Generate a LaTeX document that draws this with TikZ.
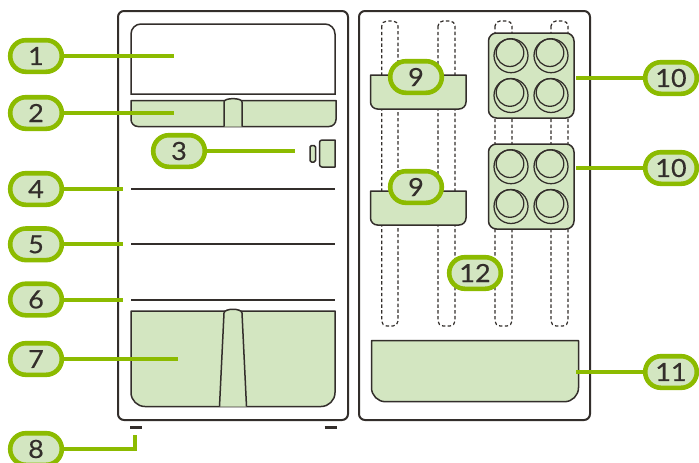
\documentclass[tikz,border=0pt]{standalone}
\usepackage{fontspec}
\setmainfont[FakeBold=0.35,FakeStretch=1.08]{Lato}
\definecolor{lgreen}{HTML}{D3E6C1}
\definecolor{lime}{HTML}{8CBB00}
\definecolor{ink}{HTML}{332E2B}
\tikzset{
 pill/.style={draw=lime,line width=4.6pt,fill=lgreen,rounded corners=15.7pt,minimum width=51.6pt,minimum height=31.6pt,inner sep=0pt,text=ink,font=\fontsize{25}{25}\selectfont},
 lead/.style={draw=lime,line width=4pt},
 part/.style={draw=ink,line width=1.5pt,fill=lgreen,line join=round},
 thin part/.style={draw=ink,line width=1.5pt},
 shelf/.style={draw=ink,line width=2pt},
 cab/.style={draw=ink,line width=2pt,rounded corners=6pt},
 tube/.style={draw=ink,line width=1.2pt,dash pattern=on 3.4pt off 2.4pt,rounded corners=5pt},
 footpad/.style={draw=ink,line width=3.6pt},
 disc/.style={draw=ink,line width=1.25pt},
}
\begin{document}
\begin{tikzpicture}[x=1pt,y=-1pt]
\useasboundingbox (0,0) rectangle (699,463);
% cabinets
\draw[cab] (118,11) rectangle (348,420);
\draw[cab] (359,11) rectangle (590,420);
% left contents
\draw[thin part] (131,94) [rounded corners=10pt] -- (131,24) -- (335,24) [sharp corners] -- (335,94) -- cycle;
\draw[part] (131,100.5) [rounded corners=7pt] -- (131,126.5) -- (336,126.5) [sharp corners] -- (336,100.5) -- cycle;
\draw[part] (224,126.5) -- (224,102) .. controls (224,97.5) and (242,97.5) .. (242,102) -- (242,126.5);
\draw[part,rounded corners=1.5pt] (310,145.5) rectangle (315.5,162);
\draw[part] (335,140) [rounded corners=2.5pt] -- (319.5,140) -- (319.5,167) [sharp corners] -- (335,167) -- cycle;
\draw[shelf] (131,189) -- (335,189);
\draw[shelf] (131,244.3) -- (335,244.3);
\draw[shelf] (131,299.5) -- (335,299.5);
\draw[part] (131,311) [rounded corners=14pt] -- (131,406.5) -- (335,406.5) [sharp corners] -- (335,311) -- cycle;
\draw[part] (219.5,406.5) -- (224,313) .. controls (224.5,308) and (241.5,308) .. (242,313) -- (246.5,406.5);
\draw[footpad] (130,427.5) -- (142,427.5);
\draw[footpad] (324.5,427.5) -- (337,427.5);
% tubes
\draw[tube] (381.7,21) rectangle (398,326);
\draw[tube] (438,21) rectangle (455,326);
\draw[tube] (495,21) rectangle (512,326);
\draw[tube] (551,21) rectangle (568,326);
% right contents
\foreach \yy in {75,191}{
\draw[part] (370.5,\yy) [rounded corners=7pt] -- (370.5,\yy+34) -- (466,\yy+34) [sharp corners] -- (466,\yy) -- cycle;
}
\foreach \yy in {33,144}{
\draw[part,rounded corners=8pt] (488.5,\yy) rectangle (574,\yy+85);
\foreach \cx in {511,551}{\foreach \cy in {22.7,62.5}{
\draw[disc] (\cx,\yy+\cy) circle[radius=17];
\draw[disc] (\cx-1,\yy+\cy-3) circle[radius=13.8];
}}}
\draw[part] (371.5,340.7) [rounded corners=14pt] -- (371.5,401.7) -- (578.5,401.7) [sharp corners] -- (578.5,340.7) -- cycle;
% labels
\node[pill] (n1) at (36,56) {1};
\node[pill] (n2) at (36,113) {2};
\node[pill] (n3) at (179,151) {3};
\node[pill] (n4) at (36,189) {4};
\node[pill] (n5) at (36,244.3) {5};
\node[pill] (n6) at (36,299.5) {6};
\node[pill] (n7) at (36,359) {7};
\node[pill] (n8) at (36,449) {8};
\node[pill] (n9a) at (416,77) {9};
\node[pill] (n9b) at (416,187) {9};
\node[pill] (n10a) at (671,78) {10};
\node[pill] (n10b) at (671,168) {10};
\node[pill] (n11) at (671,372) {11};
\node[pill] (n12) at (475,273) {12};
% connectors
\coordinate (e1) at (174,56);
\coordinate (e2) at (174,113);
\coordinate (e3) at (295,151);
\coordinate (e4) at (123,189);
\coordinate (e5) at (123,244.3);
\coordinate (e6) at (123,299.5);
\coordinate (e7) at (178,359);
\coordinate (e8) at (134.5,435);
\coordinate (e10a) at (576,78);
\coordinate (e10b) at (576,168);
\coordinate (e11) at (576,372);
\draw[lead] (n1.east) -- (e1);
\draw[lead] (n2.east) -- (e2);
\draw[lead] (n3.east) -- (e3);
\draw[lead] (n4.east) -- (e4);
\draw[lead] (n5.east) -- (e5);
\draw[lead] (n6.east) -- (e6);
\draw[lead] (n7.east) -- (e7);
\draw[lead] (n8.east) -| (e8);
\draw[lead] (n10a.west) -- (e10a);
\draw[lead] (n10b.west) -- (e10b);
\draw[lead] (n11.west) -- (e11);
\end{tikzpicture}
\end{document}
